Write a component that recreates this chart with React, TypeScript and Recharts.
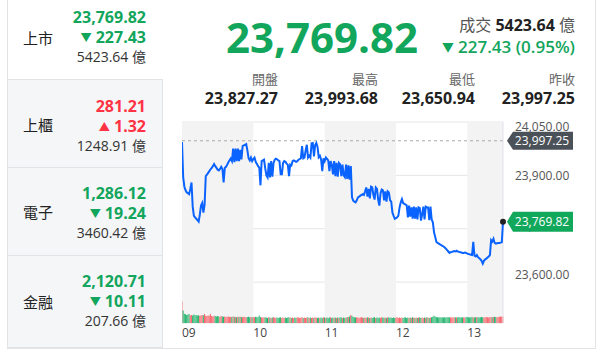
import React from 'react';
import {
  ComposedChart, Line, Bar, Cell, XAxis, YAxis, CartesianGrid,
  ReferenceArea, ReferenceLine, ReferenceDot,
} from 'recharts';

const FONT = '"Open Sans", "Noto Sans CJK TC", sans-serif';
const GREEN = '#12a55c';
const RED = '#ff3344';
const BAR_RED = '#f7646b';
const BAR_GREEN = '#22b46c';

// ---- left panel data ----
const marketNames = ['上市', '上櫃', '電子', '金融'];
const marketValues = [23769.82, 281.21, 1286.12, 2120.71];
const marketChanges = [-227.43, 1.32, -19.24, -10.11];
const marketTurnover = [5423.64, 1248.91, 3460.42, 207.66];

// ---- header data ----
const lastValue = 23769.82;
const changeValue = -227.43;
const changePct = 0.95;
const turnover = 5423.64;
const statLabels = ['開盤', '最高', '最低', '昨收'];
const statValues = [23827.27, 23993.68, 23650.94, 23997.25];
const prevClose = 23997.25;

// ---- chart data ----
const hourTicks = [0, 60, 120, 180, 240];
const hourLabels = ['09', '10', '11', '12', '13'];
const priceTicks = [24050, 23900, 23750, 23600];

const priceVals = [
  23994, 23894, 23868, 23858, 23852, 23850, 23847, 23862, 23880, 23812,
  23786, 23782, 23778, 23774, 23770, 23790, 23815, 23822, 23795, 23818,
  23898, 23902, 23907, 23912, 23917, 23921, 23926, 23932, 23926, 23921,
  23916, 23914, 23918, 23924, 23918, 23880, 23921, 23924, 23930, 23937,
  23942, 23947, 23940, 23975, 23937, 23975, 23940, 23975, 23940, 23972,
  23945, 23982, 23984, 23986, 23988, 23970, 23948, 23942, 23950, 23940,
  23946, 23950, 23938, 23932, 23926, 23922, 23872, 23940, 23942, 23944,
  23920, 23900, 23894, 23935, 23894, 23940, 23896, 23935, 23944, 23947,
  23945, 23942, 23940, 23903, 23903, 23935, 23940, 23938, 23933, 23930,
  23898, 23930, 23928, 23940, 23942, 23940, 23938, 23940, 23944, 23946,
  23948, 23982, 23948, 23950, 23970, 23986, 23950, 23955, 23950, 23990,
  23991, 23953, 23985, 23991, 23980, 23951, 23955, 23945, 23912, 23948,
  23940, 23950, 23946, 23942, 23912, 23940, 23930, 23903, 23940, 23898,
  23935, 23896, 23935, 23931, 23898, 23930, 23900, 23895, 23930, 23890,
  23928, 23888, 23926, 23838, 23829, 23826, 23824, 23830, 23838, 23840,
  23843, 23845, 23847, 23845, 23855, 23866, 23840, 23862, 23835, 23868,
  23866, 23845, 23832, 23866, 23862, 23832, 23815, 23850, 23860, 23858,
  23830, 23855, 23826, 23855, 23852, 23830, 23826, 23795, 23786, 23778,
  23780, 23782, 23787, 23810, 23824, 23833, 23822, 23820, 23818, 23816,
  23782, 23815, 23784, 23810, 23778, 23812, 23778, 23810, 23776, 23810,
  23808, 23773, 23790, 23812, 23776, 23812, 23810, 23810, 23774, 23812,
  23776, 23768, 23740, 23727, 23713, 23710, 23708, 23706, 23704, 23702,
  23700, 23697, 23694, 23690, 23686, 23682, 23684, 23685, 23686, 23687,
  23686, 23688, 23686, 23685, 23684, 23683, 23682, 23682, 23683, 23682,
  23680, 23679, 23678, 23677, 23676, 23713, 23674, 23672, 23676, 23670,
  23667, 23664, 23660, 23652, 23660, 23664, 23666, 23669, 23672, 23676,
  23718, 23714, 23722, 23710, 23708, 23709, 23710, 23710, 23711, 23712,
  23769.82,
];

const volVals = [
  72, 42, 31, 29, 27, 28, 30, 26, 27, 25,
  28, 26, 27, 25, 26, 24, 25, 27, 26, 30,
  24, 23, 25, 24, 30, 23, 22, 24, 23, 22,
  23, 22, 21, 23, 22, 21, 22, 20, 21, 22,
  20, 21, 20, 22, 21, 20, 19, 21, 20, 21,
  20, 19, 21, 20, 19, 20, 21, 19, 20, 19,
  20, 19, 21, 20, 19, 25, 20, 18, 19, 18,
  19, 18, 17, 19, 18, 17, 18, 19, 18, 17,
  18, 17, 18, 19, 17, 18, 17, 18, 17, 18,
  19, 18, 17, 18, 17, 18, 17, 19, 18, 17,
  18, 19, 17, 18, 17, 18, 19, 17, 18, 17,
  18, 17, 19, 18, 17, 18, 17, 18, 17, 19,
  18, 17, 18, 17, 18, 19, 17, 18, 17, 18,
  17, 18, 17, 19, 18, 17, 18, 17, 18, 19,
  20, 22, 27, 24, 20, 19, 18, 19, 18, 17,
  18, 19, 18, 17, 18, 17, 19, 18, 17, 18,
  17, 18, 19, 17, 18, 17, 18, 17, 19, 18,
  17, 18, 17, 18, 19, 17, 18, 17, 18, 17,
  18, 19, 17, 18, 17, 18, 17, 18, 19, 17,
  18, 17, 18, 17, 19, 18, 17, 18, 17, 18,
  19, 17, 18, 17, 18, 17, 19, 18, 17, 18,
  19, 21, 24, 22, 20, 19, 18, 19, 18, 19,
  18, 19, 18, 19, 20, 18, 19, 18, 19, 18,
  19, 18, 19, 20, 18, 19, 18, 19, 18, 19,
  20, 19, 18, 19, 20, 19, 18, 19, 20, 19,
  18, 19, 20, 19, 18, 19, 20, 19, 18, 19,
  20, 19, 20, 21, 20, 19, 20, 21, 22, 21,
  22,
];

const data = priceVals.map((p, i) => ({
  t: i,
  price: p,
  vol: volVals[i],
  up: i === 0 || p >= priceVals[i - 1],
}));

const fmt = (v: number) =>
  v.toLocaleString('en-US', { minimumFractionDigits: 2, maximumFractionDigits: 2 });

// ---- layout ----
const rowTops = [0, 80, 168, 256];
const rowHeights = [80, 88, 88, 92];
const rowV1 = [17, 106, 193, 281];
const rowLabelY = [38, 125, 212, 302];
const statRights = [278, 378, 475, 575];
const CH_W = 430;
const CH_H = 235;
const CH_MARGIN = { top: 10, right: 0, bottom: 0, left: 0 };

const HourTick = (props: any) => {
  const { x, y, payload } = props;
  const idx = hourTicks.indexOf(payload.value);
  return (
    <text x={x} y={y} dy="0.71em" textAnchor="start" fontSize={12} fill="#444">
      {hourLabels[idx]}
    </text>
  );
};

const PriceTick = (props: any) => {
  const { x, y, payload } = props;
  const py = y - CH_MARGIN.top;
  return (
    <text x={x} y={y} dy={8.5 - 0.07 * py} textAnchor="start" fontSize={12} fill="#555">
      {fmt(payload.value)}
    </text>
  );
};

const makeBadge = (fill: string, label: string, dot: boolean, h: number) => (props: any) => {
  const { cx, cy } = props;
  return (
    <g>
      <path
        d={`M${cx + 4},${cy} L${cx + 10},${cy - h / 2} H${cx + 70} V${cy + h / 2} H${cx + 10} Z`}
        fill={fill}
      />
      <text x={cx + 39} y={cy} dy="0.36em" textAnchor="middle" fontSize={12} fill="#fff">
        {label}
      </text>
      {dot && <circle cx={cx} cy={cy} r={3} fill="#222" />}
    </g>
  );
};

const Txt = ({ top, right, left, size, weight, color, lh, children }: any) => (
  <div
    style={{
      position: 'absolute',
      top,
      left: left !== undefined ? left : 0,
      width: right !== undefined ? right : undefined,
      textAlign: right !== undefined ? 'right' : 'left',
      fontSize: size,
      fontWeight: weight || 400,
      color,
      lineHeight: `${lh}px`,
      whiteSpace: 'nowrap',
    }}
  >
    {children}
  </div>
);

export default function App() {
  const arrow = (down: boolean) => (
    <span style={{ fontSize: '0.7em', marginRight: 4, verticalAlign: '1px' }}>{down ? '▼' : '▲'}</span>
  );
  return (
    <div
      style={{
        position: 'fixed', left: 0, top: 0, width: 612, height: 354,
        background: '#fff', fontFamily: FONT, overflow: 'hidden',
      }}
    >
      {/* left panel rows */}
      {marketNames.map((name, i) => {
        const down = marketChanges[i] < 0;
        const col = down ? GREEN : RED;
        return (
          <React.Fragment key={name}>
            <div
              style={{
                position: 'absolute', left: 8, top: rowTops[i], width: i === 0 ? 155 : 154,
                height: rowHeights[i] - 1, background: i === 0 ? '#fff' : '#f5f6f8',
                borderBottom: '1px solid #e1e3e7',
                borderRight: i === 0 ? 'none' : '1px solid #e1e3e7',
              }}
            />
            <Txt top={rowLabelY[i] - 11} left={23} size={15} color="#222" lh={22}>{name}</Txt>
            <Txt top={rowV1[i] - 10} right={146} size={16} weight={700} color={col} lh={20}>
              {fmt(marketValues[i])}
            </Txt>
            <Txt top={rowV1[i] + 10} right={146} size={16} weight={700} color={col} lh={20}>
              {arrow(down)}{fmt(Math.abs(marketChanges[i]))}
            </Txt>
            <Txt top={rowV1[i] + 30} right={146} size={14} color="#333" lh={20}>
              {marketTurnover[i].toFixed(2)} 億
            </Txt>
          </React.Fragment>
        );
      })}
      {/* borders */}
      <div style={{ position: 'absolute', left: 7, top: 0, width: 1, height: 349, background: '#e1e3e7' }} />
      <div style={{ position: 'absolute', left: 7, top: 348, width: 589, height: 1, background: '#e1e3e7' }} />
      <div style={{ position: 'absolute', left: 595, top: 0, width: 1, height: 349, background: '#e1e3e7' }} />

      {/* header */}
      <Txt top={12} right={418} size={42} weight={700} color={GREEN} lh={50}>{fmt(lastValue)}</Txt>
      <Txt top={14} right={575} size={16} color="#555" lh={22}>
        成交 <span style={{ color: '#222', fontWeight: 700 }}>{turnover.toFixed(2)}</span> 億
      </Txt>
      <Txt top={36} right={575} size={17} weight={600} color={GREEN} lh={22}>
        {arrow(changeValue < 0)}{fmt(Math.abs(changeValue))} ({changePct.toFixed(2)}%)
      </Txt>
      {statLabels.map((l, i) => (
        <React.Fragment key={l}>
          <Txt top={70} right={statRights[i]} size={13} color="#666" lh={18}>{l}</Txt>
          <Txt top={88} right={statRights[i]} size={16} weight={700} color="#222" lh={20}>
            {fmt(statValues[i])}
          </Txt>
        </React.Fragment>
      ))}

      {/* chart */}
      <div style={{ position: 'absolute', left: 182, top: 112 }}>
        <ComposedChart width={CH_W} height={CH_H} data={data} margin={CH_MARGIN} barCategoryGap={0}>
          <ReferenceArea yAxisId="p" x1={0} x2={60} fill="#f3f3f3" fillOpacity={1} stroke="none" />
          <ReferenceArea yAxisId="p" x1={120} x2={180} fill="#f3f3f3" fillOpacity={1} stroke="none" />
          <ReferenceArea yAxisId="p" x1={240} x2={270} fill="#f3f3f3" fillOpacity={1} stroke="none" />
          <CartesianGrid yAxisId="p" vertical={false} stroke="#e6e6e6" />
          <XAxis
            dataKey="t" type="number" domain={[0, 270]} ticks={hourTicks}
            tick={<HourTick />} axisLine={false} tickLine={false} tickSize={0} tickMargin={5}
            height={24} interval={0}
          />
          <YAxis
            yAxisId="p" orientation="right" type="number" domain={[23485, 24050]} ticks={priceTicks}
            width={109} axisLine={false} tickLine={false} tickSize={0} tickMargin={12}
            tick={<PriceTick />} interval={0} allowDataOverflow
          />
          <YAxis yAxisId="v" hide type="number" domain={[0, 670]} allowDataOverflow />
          <ReferenceLine yAxisId="p" y={prevClose} stroke="#aaa" strokeDasharray="3 3" />
          <ReferenceLine yAxisId="p" x={270} stroke="#e2e2ea" />
          <Bar yAxisId="v" dataKey="vol" barSize={1} isAnimationActive={false}>
            {data.map((d) => (
              <Cell key={d.t} fill={d.up ? BAR_RED : BAR_GREEN} />
            ))}
          </Bar>
          <Line
            yAxisId="p" dataKey="price" type="linear" stroke="#0b63ff" strokeWidth={2}
            dot={false} activeDot={false} isAnimationActive={false}
          />
        </ComposedChart>
      </div>
      {/* overlay with the same scales for price badges (drawn above axis labels) */}
      <div style={{ position: 'absolute', left: 182, top: 112, pointerEvents: 'none' }}>
        <ComposedChart
          width={CH_W} height={CH_H} data={data}
          margin={{ top: CH_MARGIN.top, right: 109, bottom: 24, left: 0 }}
        >
          <XAxis dataKey="t" type="number" domain={[0, 270]} hide />
          <YAxis yAxisId="p" type="number" domain={[23485, 24050]} hide allowDataOverflow />
          <Line
            yAxisId="p" dataKey="price" stroke="none" dot={false} activeDot={false}
            isAnimationActive={false}
          />
          <ReferenceDot
            yAxisId="p" x={270} y={prevClose} r={0}
            shape={makeBadge('#4b5159', fmt(prevClose), false, 18)}
          />
          <ReferenceDot
            yAxisId="p" x={270} y={lastValue} r={3}
            shape={makeBadge('#12a85c', fmt(lastValue), true, 20)}
          />
        </ComposedChart>
      </div>
    </div>
  );
}
